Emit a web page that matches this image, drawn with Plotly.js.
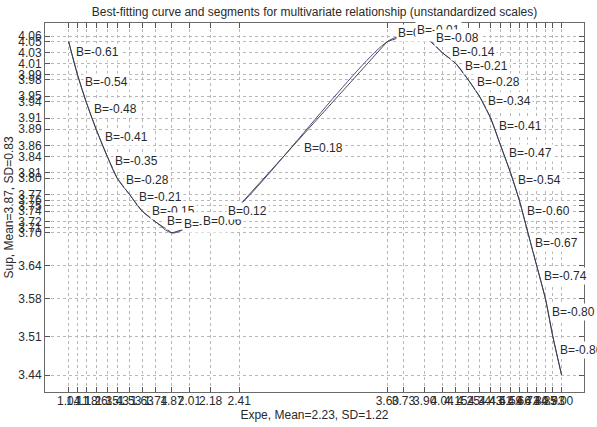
<!DOCTYPE html>
<html>
<head>
<meta charset="utf-8">
<script src="https://cdn.plot.ly/plotly-3.0.1.min.js"></script>
<style>html,body{margin:0;padding:0;background:#fff;}#chart{width:597px;height:427px;}</style>
</head>
<body>
<div id="chart"></div>
<script>
// Breakpoints of the segments
const xLeft  = [1.04, 1.11, 1.18, 1.26, 1.35, 1.43, 1.53, 1.63, 1.74, 1.87, 2.01, 2.18, 2.41];
const yLeft  = [4.05, 3.99, 3.94, 3.89, 3.84, 3.80, 3.77, 3.74, 3.72, 3.70, 3.71, 3.71, 3.75];
const xRight = [3.60, 3.73, 3.90, 4.04, 4.15, 4.25, 4.34, 4.43, 4.51, 4.59, 4.66, 4.73, 4.80, 4.87, 4.93, 5.00];
const yRight = [4.05, 4.06, 4.06, 4.03, 4.01, 3.98, 3.95, 3.91, 3.86, 3.81, 3.76, 3.70, 3.64, 3.58, 3.51, 3.44];
// Slope labels per segment
const bLeft  = ["-0.61","-0.54","-0.48","-0.41","-0.35","-0.28","-0.21","-0.15","-0.08","-0.02","0.06","0.12"];
const bMid   = ["0.18"];
const bRight = ["0.05","-0.01","-0.08","-0.14","-0.21","-0.28","-0.34","-0.41","-0.47","-0.54","-0.60","-0.67","-0.74","-0.80","-0.86"];

const xs = xLeft.concat(xRight);
const ys = yLeft.concat(yRight);
const bAll = bLeft.concat(bMid, bRight);
const midIndex = bLeft.length;

const FONT = 'Liberation Sans, Arial, Helvetica, sans-serif';
const TXT = '#2a2a2a';

const annotations = [];
for (let i = 0; i < xs.length - 1; i++) {
  let t = 0.5, shift = 6;
  if (i === midIndex) { t = 0.42; shift = -11; }
  annotations.push({
    x: xs[i] + t * (xs[i+1] - xs[i]),
    y: ys[i] + t * (ys[i+1] - ys[i]),
    xref: 'x', yref: 'y',
    text: 'B=' + bAll[i],
    showarrow: false,
    xanchor: 'left', yanchor: 'middle',
    xshift: 1, yshift: shift,
    bgcolor: '#ffffff',
    borderpad: 1,
    font: {family: FONT, size: 12, color: TXT}
  });
}

const traces = [
  {x: xs, y: ys, type: 'scatter', mode: 'lines',
   line: {color: '#4a4a90', width: 1, shape: 'spline', smoothing: 1}, hoverinfo: 'skip'},
  {x: xs, y: ys, type: 'scatter', mode: 'lines',
   line: {color: '#3a3a3a', width: 0.9}, hoverinfo: 'skip'}
];

const axisCommon = {
  showgrid: true, gridcolor: '#b8b8b8', griddash: 'dot', gridwidth: 1,
  zeroline: false, showline: true, linecolor: '#6a6a6a', linewidth: 1, mirror: 'ticks',
  ticks: 'inside', ticklen: 5, tickcolor: '#555', tickmode: 'array',
  tickfont: {family: FONT, size: 12, color: TXT}
};

const layout = {
  width: 597, height: 427,
  margin: {l: 45, r: 13, t: 23, b: 35},
  paper_bgcolor: '#fff', plot_bgcolor: '#fff',
  showlegend: false,
  title: {text: 'Best-fitting curve and segments for multivariate relationship (unstandardized scales)',
          font: {family: FONT, size: 12, color: TXT},
          x: 0.5, xref: 'paper', xanchor: 'center', y: 1 - 12/427, yref: 'container', yanchor: 'middle'},
  xaxis: Object.assign({}, axisCommon, {
    range: [0.85, 5.18], tickvals: xs, ticktext: xs.map(v => v.toFixed(2)), tickangle: 0,
    ticklabelstandoff: -2,
    title: {text: 'Expe, Mean=2.23, SD=1.22', font: {family: FONT, size: 12, color: TXT}, standoff: 1}
  }),
  yaxis: Object.assign({}, axisCommon, {
    range: [3.409, 4.084], tickvals: ys, ticktext: ys.map(v => v.toFixed(2)),
    title: {text: 'Sup, Mean=3.87, SD=0.83', font: {family: FONT, size: 12, color: TXT}, standoff: 2}
  }),
  annotations: annotations
};

Plotly.newPlot('chart', traces, layout, {staticPlot: true, displayModeBar: false});
</script>
</body>
</html>
